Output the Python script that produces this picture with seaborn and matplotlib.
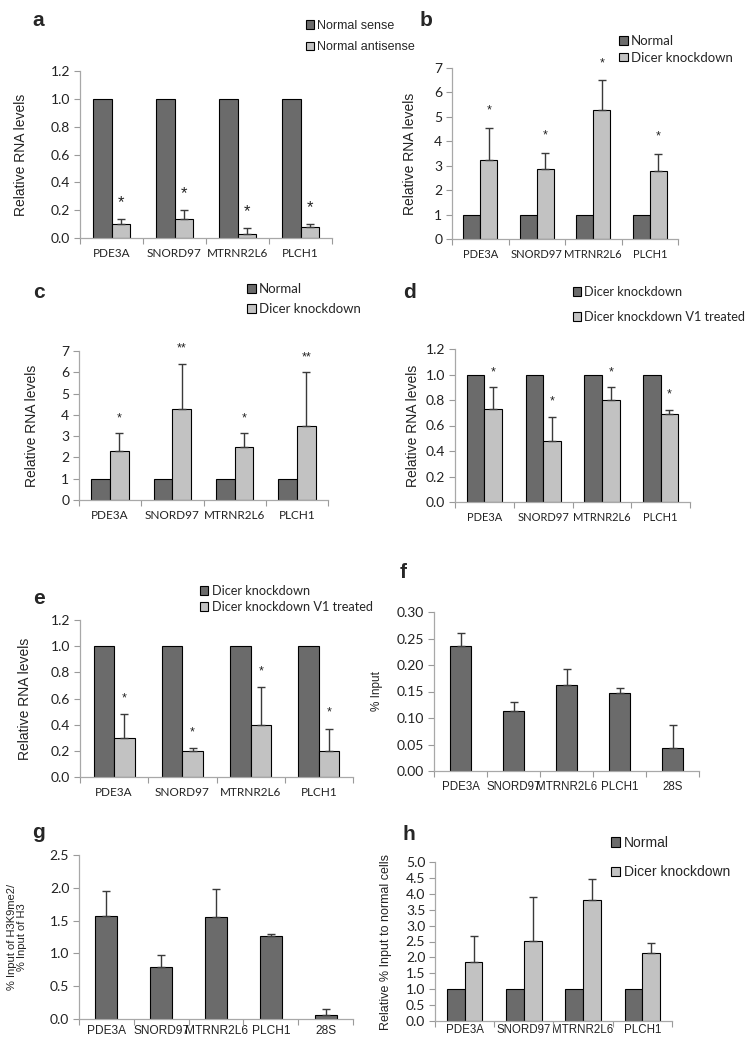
import pandas as pd
import matplotlib.pyplot as plt
import seaborn as sns
from matplotlib.patches import Patch
from matplotlib.ticker import FormatStrFormatter, FixedLocator

sns.set_theme(style="white")
plt.rcParams['font.family'] = ['Liberation Sans', 'DejaVu Sans']

CAL = 'Lato'            # stand-in for Calibri
ARI = 'Liberation Sans' # stand-in for Arial
DARK = '#6b6b6b'
LIGHT = '#c2c2c2'

genes = ["PDE3A", "SNORD97", "MTRNR2L6", "PLCH1"]
genes_28s = ["PDE3A", "SNORD97", "MTRNR2L6", "PLCH1", "28S"]

# a
a_names = ["Normal sense", "Normal antisense"]
a_sense = [1.0, 1.0, 1.0, 1.0]
a_anti = [0.10, 0.14, 0.03, 0.08]
a_anti_err = [0.035, 0.06, 0.04, 0.02]
a_stars = ["*", "*", "*", "*"]

# b
b_names = ["Normal", "Dicer knockdown"]
b_normal = [1.0, 1.0, 1.0, 1.0]
b_dicer = [3.22, 2.88, 5.30, 2.80]
b_dicer_err = [1.33, 0.64, 1.20, 0.68]
b_stars = ["*", "*", "*", "*"]

# c
c_names = ["Normal", "Dicer knockdown"]
c_normal = [1.0, 1.0, 1.0, 1.0]
c_dicer = [2.28, 4.28, 2.48, 3.50]
c_dicer_err = [0.87, 2.12, 0.67, 2.50]
c_stars = ["*", "**", "*", "**"]

# d
d_names = ["Dicer knockdown", "Dicer knockdown V1 treated"]
d_kd = [1.0, 1.0, 1.0, 1.0]
d_v1 = [0.73, 0.48, 0.80, 0.69]
d_v1_err = [0.17, 0.19, 0.10, 0.03]
d_stars = ["*", "*", "*", "*"]

# e
e_names = ["Dicer knockdown", "Dicer knockdown V1 treated"]
e_kd = [1.0, 1.0, 1.0, 1.0]
e_v1 = [0.30, 0.20, 0.40, 0.20]
e_v1_err = [0.18, 0.02, 0.29, 0.17]
e_stars = ["*", "*", "*", "*"]

# f
f_input = [0.236, 0.114, 0.163, 0.148, 0.044]
f_err = [0.024, 0.016, 0.030, 0.008, 0.043]

# g
g_ratio = [1.57, 0.79, 1.55, 1.27, 0.06]
g_err = [0.38, 0.19, 0.43, 0.02, 0.09]

# h
h_names = ["Normal", "Dicer knockdown"]
h_normal = [1.0, 1.0, 1.0, 1.0]
h_dicer = [1.85, 2.53, 3.80, 2.14]
h_dicer_err = [0.83, 1.37, 0.68, 0.32]

W, H = 754, 1049
fig = plt.figure(figsize=(W / 100, H / 100), dpi=100)


def px_axes(left, top, right, bottom):
    return fig.add_axes([left / W, 1 - bottom / H, (right - left) / W, (bottom - top) / H])


def style_axes(ax, cats, ylim, ystep, fmt, xfont, yfont, xsize=8.5, ysize=10):
    n = len(cats)
    ax.set_xlim(-0.5, n - 0.5)
    ax.set_ylim(*ylim)
    yt = [round(ylim[0] + i * ystep, 4) for i in range(int(round((ylim[1] - ylim[0]) / ystep)) + 1)]
    ax.set_yticks(yt)
    ax.yaxis.set_major_formatter(FormatStrFormatter(fmt))
    ax.set_xticks(range(n))
    ax.set_xticklabels(cats, fontsize=xsize, family=xfont)
    ax.xaxis.set_minor_locator(FixedLocator([i - 0.5 for i in range(n + 1)]))
    for lab in ax.get_yticklabels():
        lab.set_fontsize(ysize)
        lab.set_family(yfont)
    ax.tick_params(axis='x', which='major', length=0, pad=7, colors='#222222')
    ax.tick_params(axis='x', which='minor', length=4, width=0.8, color='#9a9a9a', direction='out', bottom=True)
    ax.tick_params(axis='y', length=4, width=0.8, color='#9a9a9a', direction='out', left=True, pad=3,
                   labelcolor='#222222')
    for s in ['top', 'right']:
        ax.spines[s].set_visible(False)
    for s in ['left', 'bottom']:
        ax.spines[s].set_color('#a8a8a8')
        ax.spines[s].set_linewidth(0.9)
    ax.set_xlabel('')


def grouped(box, cats, names, v1, v2, err, ylim, ystep, fmt, xfont, yfont, xsize=8.5):
    ax = px_axes(*box)
    df = pd.DataFrame({'gene': cats * 2, 'group': [names[0]] * len(cats) + [names[1]] * len(cats),
                       'value': list(v1) + list(v2)})
    sns.barplot(data=df, x='gene', y='value', hue='group', order=cats, hue_order=names,
                palette={names[0]: DARK, names[1]: LIGHT}, width=0.6, saturation=1,
                edgecolor='black', linewidth=0.8, errorbar=None, legend=False, ax=ax)
    xs = [b.get_x() + b.get_width() / 2 for b in ax.containers[1]]
    ax.errorbar(xs, v2, yerr=[[0] * len(err), err], fmt='none', ecolor='#3a3a3a',
                elinewidth=1.0, capsize=3, capthick=1.0, zorder=1)
    style_axes(ax, cats, ylim, ystep, fmt, xfont, yfont, xsize=xsize)
    return ax, xs


def single(box, cats, vals, err, ylim, ystep, fmt, xfont, yfont, xsize):
    ax = px_axes(*box)
    sns.barplot(x=cats, y=vals, color=DARK, width=0.4, saturation=1, edgecolor='black',
                linewidth=0.8, errorbar=None, ax=ax)
    ax.errorbar(range(len(cats)), vals, yerr=[[0] * len(err), err], fmt='none', ecolor='#3a3a3a',
                elinewidth=1.0, capsize=3, capthick=1.0, zorder=1)
    style_axes(ax, cats, ylim, ystep, fmt, xfont, yfont, xsize=xsize)
    return ax


def add_stars(ax, xs, vals, err, stars, ymax, size=9):
    for x, v, e, s in zip(xs, vals, err, stars):
        ax.text(x, v + e + 0.1 * ymax, s, ha='center', va='center', fontsize=size,
                family=ARI, color='#222222', clip_on=False)


def add_legend(ax, names, lx, ly, spacing, font, size=9.5):
    handles = [Patch(facecolor=DARK, edgecolor='black', linewidth=0.8, label=names[0]),
               Patch(facecolor=LIGHT, edgecolor='black', linewidth=0.8, label=names[1])]
    ax.legend(handles=handles, loc='upper left', bbox_to_anchor=(lx / W, 1 - ly / H),
              bbox_transform=fig.transFigure, frameon=False, borderpad=0, borderaxespad=0,
              handlelength=0.65, handleheight=0.65, handletextpad=0.25, labelspacing=spacing,
              prop={'family': font, 'size': size})


def ylabel(ax, text, xpx, box, size=10):
    ax.set_ylabel(text, fontsize=size, family=ARI, color='#222222')
    ax.yaxis.set_label_coords((xpx - box[0]) / (box[2] - box[0]), 0.5)


def letter(x, y, s):
    fig.text(x / W, 1 - y / H, s, fontsize=15, fontweight='bold', family=ARI, va='center', ha='left')


# panel a
box = (80, 71, 332, 238)
ax, xs = grouped(box, genes, a_names, a_sense, a_anti, a_anti_err, (0, 1.2), 0.2, '%.1f', CAL, CAL)
add_stars(ax, xs, a_anti, a_anti_err, a_stars, 1.2, size=12)
add_legend(ax, a_names, 306, 20, 0.75, ARI, size=9)
ylabel(ax, 'Relative RNA levels', 28, box)
letter(32, 20, 'a')

# panel b
box = (452, 68, 678, 239)
ax, xs = grouped(box, genes, b_names, b_normal, b_dicer, b_dicer_err, (0, 7), 1, '%d', CAL, CAL, xsize=8)
add_stars(ax, xs, b_dicer, b_dicer_err, b_stars, 7)
add_legend(ax, b_names, 619, 35, 0.35, CAL)
ylabel(ax, 'Relative RNA levels', 417, box)
letter(420, 20, 'b')

# panel c
box = (79, 351, 328, 500)
ax, xs = grouped(box, genes, c_names, c_normal, c_dicer, c_dicer_err, (0, 7), 1, '%d', CAL, CAL)
add_stars(ax, xs, c_dicer, c_dicer_err, c_stars, 7)
add_legend(ax, c_names, 247, 283, 0.6, CAL)
ylabel(ax, 'Relative RNA levels', 39, box)
letter(33, 293, 'c')

# panel d
box = (455, 349, 690, 502)
ax, xs = grouped(box, genes, d_names, d_kd, d_v1, d_v1_err, (0, 1.2), 0.2, '%.1f', CAL, CAL, xsize=8)
add_stars(ax, xs, d_v1, d_v1_err, d_stars, 1.2)
add_legend(ax, d_names, 573, 286, 1.0, CAL, size=9.2)
ylabel(ax, 'Relative RNA levels', 420, box)
letter(403, 293, 'd')

# panel e
box = (80, 620, 353, 777)
ax, xs = grouped(box, genes, e_names, e_kd, e_v1, e_v1_err, (0, 1.2), 0.2, '%.1f', CAL, CAL)
add_stars(ax, xs, e_v1, e_v1_err, e_stars, 1.2)
add_legend(ax, e_names, 200, 585, 0.3, CAL, size=9.2)
ylabel(ax, 'Relative RNA levels', 32, box)
letter(33, 598, 'e')

# panel f
box = (434, 612, 699, 771)
ax = single(box, genes_28s, f_input, f_err, (0, 0.30), 0.05, '%.2f', ARI, CAL, 8.3)
ylabel(ax, '% Input', 383, box, size=8.5)
letter(400, 573, 'f')

# panel g
box = (79, 855, 353, 1019)
ax = single(box, genes_28s, g_ratio, g_err, (0, 2.5), 0.5, '%.1f', ARI, CAL, 8.6)
ax.tick_params(axis='x', which='major', pad=4)
ylabel(ax, '% Input of H3K9me2/\n% Input of H3', 27, box, size=8)
ax.yaxis.label.set_linespacing(1.0)
letter(32, 833, 'g')

# panel h
box = (435, 862, 672, 1021)
ax, xs = grouped(box, genes, h_names, h_normal, h_dicer, h_dicer_err, (0, 5.0), 0.5, '%.1f', ARI, CAL,
                 xsize=8.3)
ax.tick_params(axis='x', which='major', pad=2)
add_legend(ax, h_names, 611, 836, 1.1, ARI, size=10)
ylabel(ax, 'Relative % Input to normal cells', 392, box, size=9)
letter(403, 835, 'h')

fig.savefig('out.png', dpi=100)
